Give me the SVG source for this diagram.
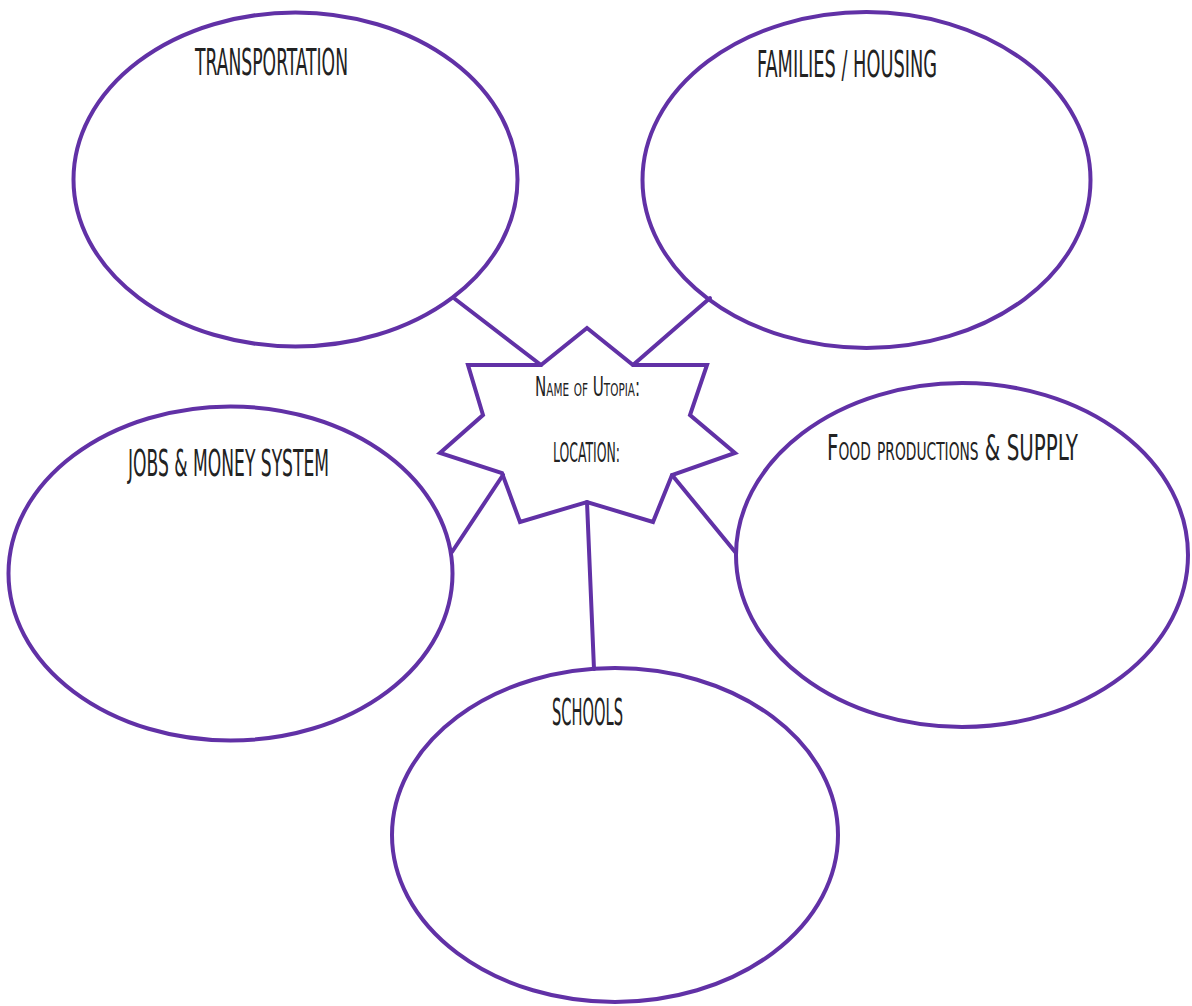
<svg xmlns="http://www.w3.org/2000/svg" width="1192" height="1006" viewBox="0 0 1192 1006">
<style>
.o{fill:none;stroke:#6131a6;stroke-width:4}
.c{fill:none;stroke:#6131a6;stroke-width:4;stroke-linecap:round}
.t{font-family:"Liberation Sans Narrow","DejaVu Sans Condensed","Liberation Sans",sans-serif;fill:#222;text-anchor:start}
.sc{font-variant:small-caps}
</style>
<rect width="1192" height="1006" fill="#fff"/>
<g id="connectors">
<line class="c" x1="455" y1="299" x2="541" y2="365"/>
<line class="c" x1="710" y1="298" x2="633" y2="365"/>
<line class="c" x1="503" y1="475" x2="452" y2="552"/>
<line class="c" x1="672" y1="475" x2="736" y2="553"/>
<line class="c" x1="587" y1="502" x2="594" y2="669"/>
</g>
<g id="transportation">
<ellipse class="o" cx="295.5" cy="179.5" rx="222" ry="167"/>
<text class="t" x="195" y="75" font-size="38" textLength="153" lengthAdjust="spacingAndGlyphs">TRANSPORTATION</text>
</g>
<g id="families">
<ellipse class="o" cx="866.5" cy="180" rx="224" ry="168"/>
<text class="t" x="757" y="77" font-size="38" textLength="180" lengthAdjust="spacingAndGlyphs">FAMILIES / HOUSING</text>
</g>
<g id="jobs">
<ellipse class="o" cx="230.5" cy="573.5" rx="222" ry="167"/>
<text class="t" x="128" y="476" font-size="38" textLength="201" lengthAdjust="spacingAndGlyphs">JOBS &amp; MONEY SYSTEM</text>
</g>
<g id="food">
<ellipse class="o" cx="962" cy="555" rx="226" ry="172"/>
<text class="t sc" x="827" y="460" font-size="36" textLength="251" lengthAdjust="spacingAndGlyphs">Food productions &amp; SUPPLY</text>
</g>
<g id="schools">
<ellipse class="o" cx="615" cy="835" rx="223" ry="167"/>
<text class="t" x="552" y="725" font-size="38" textLength="71" lengthAdjust="spacingAndGlyphs">SCHOOLS</text>
</g>
<g id="utopia">
<polygon class="o" stroke-linejoin="miter" points="587,328 541,365 468,365 483,415 440,453 502,473 520,522 587,502 653,522 672,475 735,453 690,415 707,365 633,365"/>
<text class="t sc" x="535" y="396" font-size="26" textLength="105" lengthAdjust="spacingAndGlyphs">Name of Utopia:</text>
<text class="t" x="553" y="462" font-size="26" textLength="67" lengthAdjust="spacingAndGlyphs">LOCATION:</text>
</g>
</svg>
